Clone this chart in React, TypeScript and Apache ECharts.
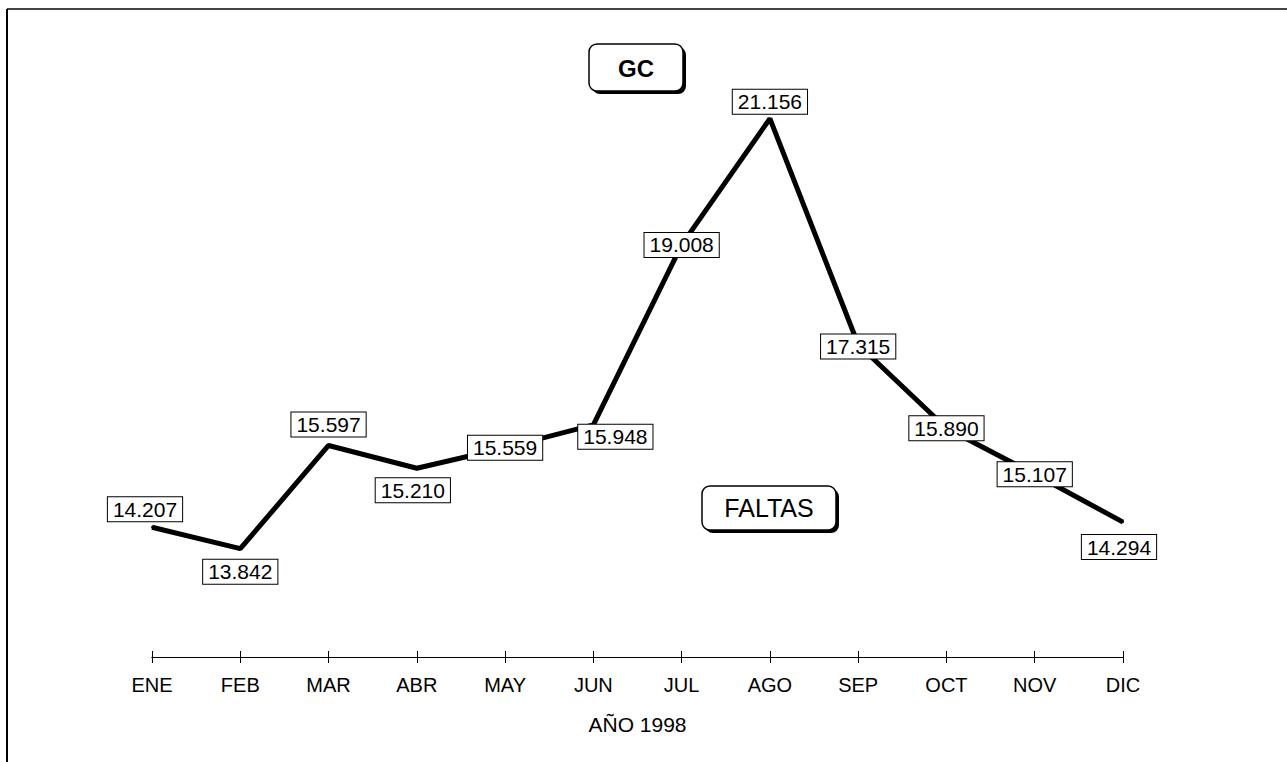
import React, { useEffect, useRef } from "react";
import * as echarts from "echarts";

const months = ["ENE", "FEB", "MAR", "ABR", "MAY", "JUN", "JUL", "AGO", "SEP", "OCT", "NOV", "DIC"];
const values = [14.207, 13.842, 15.597, 15.21, 15.559, 15.948, 19.008, 21.156, 17.315, 15.89, 15.107, 14.294];
const labelTexts = ["14.207", "13.842", "15.597", "15.210", "15.559", "15.948", "19.008", "21.156", "17.315", "15.890", "15.107", "14.294"];
const labelOffsets: number[][] = [
  [-7, -18], [0, 23], [0, -21], [-4, 22], [0, 0], [22, 12],
  [0, 0], [0, -17], [0, 2], [0, 0], [0, 0], [-4, 25],
];
const axisName = "AÑO 1998";
const titleTop = "GC";
const titleBottom = "FALTAS";

const FONT = "'Liberation Sans', Arial, Helvetica, sans-serif";

export default function App() {
  const ref = useRef<HTMLDivElement>(null);
  useEffect(() => {
    if (!ref.current) return;
    const chart = echarts.init(ref.current, null, { renderer: "svg" });
    const baseAxis = {
      type: "category" as const,
      data: months,
      boundaryGap: false,
      axisLine: { show: true, lineStyle: { color: "#000", width: 1 } },
    };
    chart.setOption({
      animation: false,
      backgroundColor: "#fff",
      grid: { left: 152, right: 164, top: 69, bottom: 105 },
      xAxis: [
        {
          ...baseAxis,
          axisTick: { show: true, length: 6, inside: false, lineStyle: { color: "#000" } },
          axisLabel: { fontSize: 20, color: "#000", fontFamily: FONT, margin: 18 },
          name: axisName,
          nameLocation: "middle",
          nameGap: 57,
          nameTextStyle: { fontSize: 21, color: "#000", fontFamily: FONT },
        },
        {
          ...baseAxis,
          position: "bottom",
          axisTick: { show: true, length: 6, inside: true, lineStyle: { color: "#000" } },
          axisLabel: { show: false },
        },
      ],
      yAxis: { type: "value", min: 12, max: 22, show: false, splitLine: { show: false } },
      series: [
        {
          type: "line",
          xAxisIndex: 0,
          data: values.map((v, i) => ({
            value: v,
            label: {
              show: true,
              position: "inside",
              offset: labelOffsets[i],
              formatter: labelTexts[i],
              fontSize: 21,
              color: "#000",
              fontFamily: FONT,
              backgroundColor: "#fff",
              borderColor: "#000",
              borderWidth: 1,
              padding: [2, 5, 1, 5],
            },
          })),
          symbol: "circle",
          symbolSize: 2,
          itemStyle: { color: "#000" },
          lineStyle: { color: "#000", width: 5 },
          z: 3,
        },
      ],
      graphic: [
        { type: "line", shape: { x1: 7, y1: 9, x2: 1287, y2: 9 }, style: { stroke: "#444", lineWidth: 2 } },
        { type: "line", shape: { x1: 7, y1: 9, x2: 7, y2: 762 }, style: { stroke: "#000", lineWidth: 2 } },
        { type: "rect", shape: { x: 592, y: 47, width: 94, height: 47, r: 8 }, style: { fill: "#000" } },
        { type: "rect", shape: { x: 589, y: 44, width: 94, height: 47, r: 8 }, style: { fill: "#fff", stroke: "#000", lineWidth: 1.5 } },
        { type: "text", x: 636, y: 68, style: { text: titleTop, fontSize: 24, fontWeight: "bold", fontFamily: FONT, fill: "#000", align: "center", verticalAlign: "middle" } },
        { type: "rect", shape: { x: 705, y: 489, width: 134, height: 44, r: 8 }, style: { fill: "#000" } },
        { type: "rect", shape: { x: 702, y: 486, width: 134, height: 44, r: 8 }, style: { fill: "#fff", stroke: "#000", lineWidth: 1.5 } },
        { type: "text", x: 769, y: 508, style: { text: titleBottom, fontSize: 25, fontFamily: FONT, fill: "#000", align: "center", verticalAlign: "middle" } },
      ],
    });
    return () => chart.dispose();
  }, []);
  return (
    <div
      ref={ref}
      style={{ position: "fixed", left: 0, top: 0, width: 1287, height: 762, background: "#fff" }}
    />
  );
}
